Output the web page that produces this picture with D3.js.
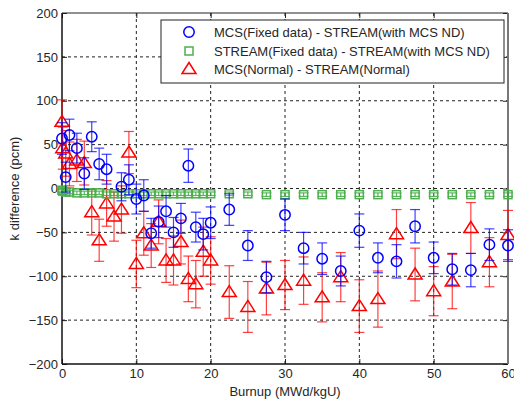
<!DOCTYPE html>
<html>
<head>
<meta charset="utf-8">
<script src="https://cdn.jsdelivr.net/npm/d3@7"></script>
<style>
  body { margin: 0; background: #fff; }
  text { font-family: "Liberation Sans", Arial, sans-serif; }
</style>
</head>
<body>
<div id="chart"></div>
<script>
// burnup steps and k differences (pcm)
let mcsFixedX = [0, 0.5, 1, 2, 3, 4, 5, 6, 8, 9, 10, 11, 12, 13, 14, 15, 16, 17, 18, 19, 20, 22.5, 25, 27.5, 30, 32.5, 35, 37.5, 40, 42.5, 45, 47.5, 50, 52.5, 55, 57.5, 60];
let mcsFixedY = [57, 13, 61, 46, 17, 59, 28, 22, 2, 10, -12, -8, -51, -38, -26, -50, -34, 26, -44, -52, -39, -24, -65, -101, -30, -68, -80, -94, -48, -79, -83, -43, -79, -92, -93, -64, -65];
let mcsFixedErr = [18, 17, 18, 17, 18, 17, 18, 17, 16, 17, 17, 18, 17, 18, 18, 17, 17, 19, 17, 18, 18, 18, 17, 18, 18, 18, 18, 17, 19, 17, 19, 19, 18, 18, 19, 18, 18];

let normalX = [0, 0.1, 0.5, 1, 2, 3, 4, 5, 6, 7, 8, 9, 10, 11, 12, 13, 14, 15, 16, 17, 18, 19, 20, 22.5, 25, 27.5, 30, 32.5, 35, 37.5, 40, 42.5, 45, 47.5, 50, 52.5, 55, 57.5, 60];
let streamFixedY = [-2, -3, -4, -4, -5, -5, -5, -5, -6, -6, -6, -6, -6, -6, -6, -6, -6, -6, -6, -6, -6, -6, -6, -6, -6, -7, -7, -7, -7, -7, -7, -7, -7, -7, -7, -7, -7, -7, -7];
let streamFixedErr = [2, 2, 2, 2, 2, 2, 2, 2, 2, 2, 2, 2, 2, 2, 2, 2, 2, 2, 2, 2, 2, 2, 2, 2, 2, 2, 2, 2, 2, 2, 2, 2, 2, 2, 2, 2, 2, 2, 2];
let mcsNormalY = [76, 46, 40, 28, 32, 29, -27, -59, -17, -32, -24, 41, -86, -51, -65, -38, -82, -82, -61, -103, -109, -72, -82, -118, -135, -114, -110, -105, -124, -101, -134, -126, -52, -98, -117, -106, -45, -84, -53];
let mcsNormalErr = [25, 24, 26, 25, 24, 25, 26, 24, 26, 28, 27, 24, 27, 25, 25, 25, 25, 28, 25, 26, 27, 28, 27, 30, 29, 30, 28, 27, 28, 28, 30, 32, 28, 30, 28, 31, 29, 28, 28];

let xTicks = [0, 10, 20, 30, 40, 50, 60];
let yTicks = [-200, -150, -100, -50, 0, 50, 100, 150, 200];
let legendLabels = ['MCS(Fixed data) - STREAM(with MCS ND)', 'STREAM(Fixed data) - STREAM(with MCS ND)', 'MCS(Normal) - STREAM(Normal)'];

let svgAttr = {width: 514, height: 403};
let marge = {top: 13, bottom: 39, left: 62, right: 6};
let w = svgAttr.width - marge.left - marge.right;
let h = svgAttr.height - marge.top - marge.bottom;

let svg = d3.select('#chart').append('svg').attr('width', svgAttr.width).attr('height', svgAttr.height);
let g = svg.append('g').attr('transform', 'translate(' + marge.left + ',' + marge.top + ')');

let xScale = d3.scaleLinear().domain([0, 60]).range([0, w]);
let yScale = d3.scaleLinear().domain([-200, 200]).range([h, 0]);

// grid
g.append('g').selectAll('line').data(xTicks.slice(1, -1)).enter().append('line')
    .attr('x1', d => xScale(d)).attr('x2', d => xScale(d)).attr('y1', 0).attr('y2', h)
    .attr('stroke', '#222').attr('stroke-width', 1).attr('stroke-dasharray', '3,3');
g.append('g').selectAll('line').data(yTicks.slice(1, -1)).enter().append('line')
    .attr('y1', d => yScale(d)).attr('y2', d => yScale(d)).attr('x1', 0).attr('x2', w)
    .attr('stroke', '#222').attr('stroke-width', 1).attr('stroke-dasharray', '3,3');

// axes, ticks inward
let xAxis = d3.axisBottom(xScale).tickValues(xTicks).tickSizeInner(-5).tickSizeOuter(0).tickPadding(5);
let yAxis = d3.axisLeft(yScale).tickValues(yTicks).tickSizeInner(-5).tickSizeOuter(0).tickPadding(4);
let gx = g.append('g').attr('transform', 'translate(0,' + h + ')').call(xAxis);
let gy = g.append('g').call(yAxis);
g.append('g').call(d3.axisTop(xScale).tickValues(xTicks).tickSizeInner(-5).tickSizeOuter(0).tickFormat(''));
g.append('g').attr('transform', 'translate(' + w + ',0)').call(d3.axisRight(yScale).tickValues(yTicks).tickSizeInner(-5).tickSizeOuter(0).tickFormat(''));
g.selectAll('.domain').remove();
g.selectAll('.tick line').attr('stroke', '#222');
[gx, gy].forEach(a => a.selectAll('text').attr('font-size', '13px').attr('fill', '#262626').style('font-family', '"Liberation Sans", Arial, sans-serif'));

// frame
g.append('line').attr('x1', 0).attr('x2', w).attr('y1', 0).attr('y2', 0).attr('stroke', '#222');
g.append('line').attr('x1', 0).attr('x2', 0).attr('y1', 0).attr('y2', h).attr('stroke', '#111').attr('stroke-width', 1.5);
g.append('line').attr('x1', 0).attr('x2', w).attr('y1', h).attr('y2', h).attr('stroke', '#111').attr('stroke-width', 1.5);
g.append('line').attr('x1', w).attr('x2', w).attr('y1', 0).attr('y2', h).attr('stroke', '#777').attr('stroke-width', 2);

// axis labels
svg.append('text').attr('x', marge.left + w / 2).attr('y', 396).attr('text-anchor', 'middle')
    .attr('font-size', '13px').attr('fill', '#262626').text('Burnup (MWd/kgU)');
svg.append('text').attr('transform', 'translate(19,' + (marge.top + h / 2) + ') rotate(-90)').attr('text-anchor', 'middle')
    .attr('font-size', '13px').attr('fill', '#262626').text('k difference (pcm)');

function errorBars(xs, ys, es, color, opacity) {
    let eg = g.append('g').attr('stroke', color).attr('stroke-opacity', opacity).attr('stroke-width', 1.2);
    xs.forEach(function (x, i) {
        let cx = xScale(x), y1 = yScale(ys[i] + es[i]), y2 = yScale(ys[i] - es[i]);
        eg.append('line').attr('x1', cx).attr('x2', cx).attr('y1', y1).attr('y2', y2);
        eg.append('line').attr('x1', cx - 5).attr('x2', cx + 5).attr('y1', y1).attr('y2', y1);
        eg.append('line').attr('x1', cx - 5).attr('x2', cx + 5).attr('y1', y2).attr('y2', y2);
    });
}

let triangle = 'M0,-6.5L7,4.5L-7,4.5Z';

// red: MCS(Normal) - STREAM(Normal)
errorBars(normalX, mcsNormalY, mcsNormalErr, '#ff0000', 0.75);
g.append('g').selectAll('path').data(mcsNormalY).enter().append('path')
    .attr('d', triangle)
    .attr('transform', (d, i) => 'translate(' + xScale(normalX[i]) + ',' + yScale(d) + ')')
    .attr('fill', 'none').attr('stroke', '#ff0000').attr('stroke-width', 1.5);

// green: STREAM(Fixed data) - STREAM(with MCS ND)
errorBars(normalX, streamFixedY, streamFixedErr, '#3aa53a', 0.8);
g.append('g').selectAll('rect').data(streamFixedY).enter().append('rect')
    .attr('x', (d, i) => xScale(normalX[i]) - 4).attr('y', d => yScale(d) - 4)
    .attr('width', 8).attr('height', 8)
    .attr('fill', 'none').attr('stroke', '#4cb04c').attr('stroke-width', 1.5);

// blue: MCS(Fixed data) - STREAM(with MCS ND)
errorBars(mcsFixedX, mcsFixedY, mcsFixedErr, '#0000ff', 0.75);
g.append('g').selectAll('circle').data(mcsFixedY).enter().append('circle')
    .attr('cx', (d, i) => xScale(mcsFixedX[i])).attr('cy', d => yScale(d)).attr('r', 5.2)
    .attr('fill', 'none').attr('stroke', '#0000ff').attr('stroke-width', 1.5);

// legend
let legend = svg.append('g').attr('transform', 'translate(161,20)');
legend.append('rect').attr('width', 343).attr('height', 63).attr('fill', '#fff').attr('stroke', '#222');
let rowY = [12, 31, 49];
legend.append('circle').attr('cx', 28).attr('cy', rowY[0]).attr('r', 5.2)
    .attr('fill', 'none').attr('stroke', '#0000ff').attr('stroke-width', 1.5);
legend.append('rect').attr('x', 24).attr('y', rowY[1] - 4).attr('width', 8).attr('height', 8)
    .attr('fill', 'none').attr('stroke', '#4cb04c').attr('stroke-width', 1.5);
legend.append('path').attr('d', triangle).attr('transform', 'translate(28,' + rowY[2] + ')')
    .attr('fill', 'none').attr('stroke', '#ff0000').attr('stroke-width', 1.5);
legend.selectAll('.lab').data(legendLabels).enter().append('text')
    .attr('x', 53).attr('y', (d, i) => rowY[i] + 5).attr('font-size', '13px').attr('fill', '#262626')
    .text(d => d);
</script>
</body>
</html>
